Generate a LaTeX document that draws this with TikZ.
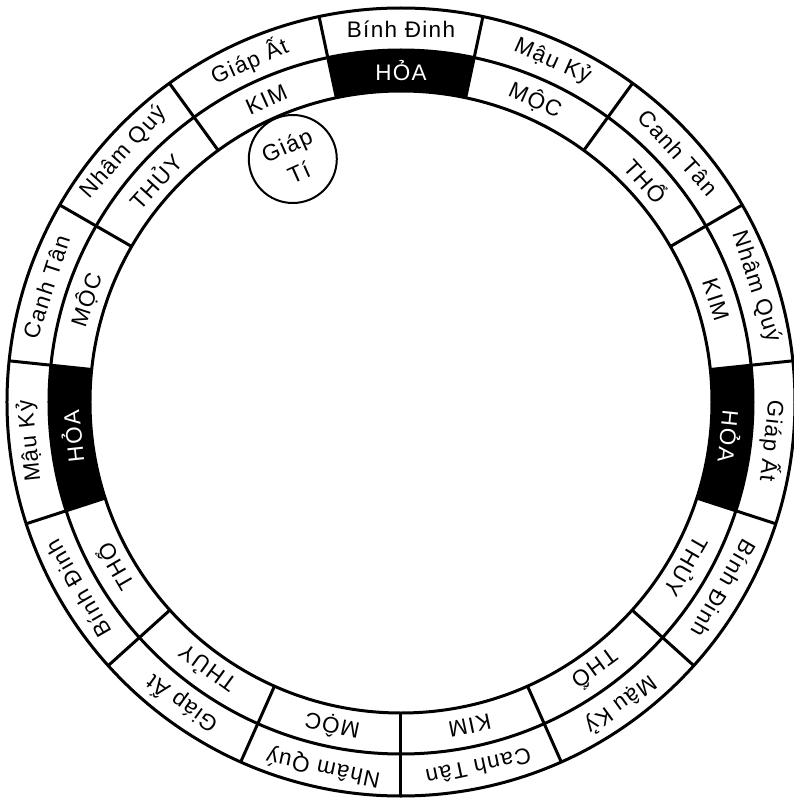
\documentclass[tikz,border=0pt]{standalone}
\usepackage{fontspec}
\setmainfont{Liberation Sans}[LetterSpace=6]
\begin{document}
\begin{tikzpicture}[x=1pt,y=1pt, line width=3pt,
  lbl/.style={font=\fontsize{22.5}{26}\selectfont, inner sep=0pt, anchor=center},
  blk/.style={fill=black}]
\useasboundingbox (-401,-399) rectangle (393,402);
\def\Ro{394}\def\Rm{352}\def\Ri{311}
\coordinate (c) at (0,0);
% black sectors
\foreach \a/\nm in {90/s0,-6/s4,186/s11}{
  \fill[blk] ({\a-12}:\Ri) arc[start angle={\a-12}, end angle={\a+12}, radius=\Ri]
    -- ({\a+12}:\Rm) arc[start angle={\a+12}, end angle={\a-12}, radius=\Rm] -- cycle;
}
% rings
\draw (c) circle[radius=\Ro];
\draw (c) circle[radius=\Rm];
\draw (c) circle[radius=\Ri];
% sector boundaries
\foreach \k in {0,...,14}{
  \coordinate (bi\k) at ({102-24*\k}:\Ri);
  \coordinate (bo\k) at ({102-24*\k}:\Ro);
  \draw (bi\k) -- (bo\k);
}
% labels
\foreach \k/\o/\n/\c in {0/Bính Đinh/HỎA/white,1/Mậu Kỷ/MỘC/black,2/Canh Tân/THỔ/black,
  3/Nhâm Quý/KIM/black,4/Giáp Ất/HỎA/white,5/Bính Đinh/THỦY/black,6/Mậu Kỷ/THỔ/black,
  7/Canh Tân/KIM/black,8/Nhâm Quý/MỘC/black,9/Giáp Ất/THỦY/black,10/Bính Đinh/THỔ/black,
  11/Mậu Kỷ/HỎA/white,12/Canh Tân/MỘC/black,13/Nhâm Quý/THỦY/black,14/Giáp Ất/KIM/black}{
  \node[lbl, rotate={-24*\k}] (o\k) at ({90-24*\k}:373) {\o};
  \node[lbl, rotate={-24*\k}, text=\c] (n\k) at ({90-24*\k}:331) {\n};
}
% Giap Ti circle
\node[draw, circle, minimum size=88pt, inner sep=0pt, line width=2pt] (gt) at (114:266) {};
\node[lbl, rotate=24, align=center, font=\fontsize{23}{30}\selectfont] (gtt) at (gt.center) {Giáp\\Tí};
\end{tikzpicture}
\end{document}
